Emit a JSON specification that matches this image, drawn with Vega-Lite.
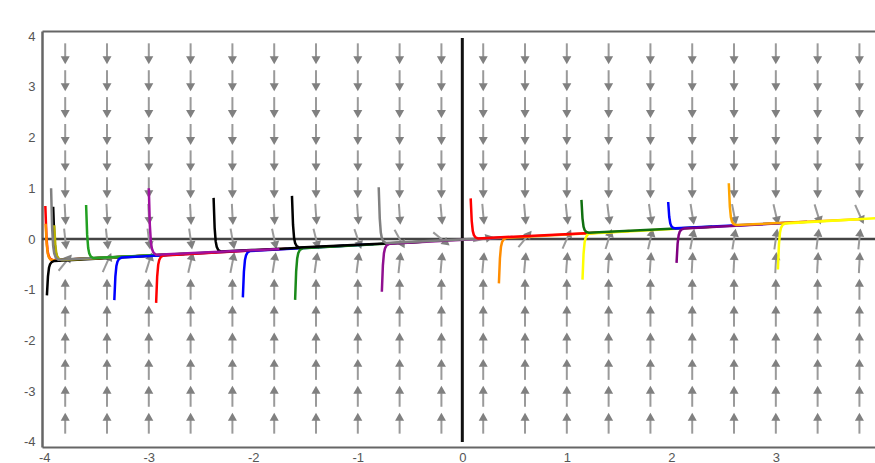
{
"$schema":"https://vega.github.io/schema/vega-lite/v6.json",
"width":833,"height":416,
"autosize":{"type":"none"},
"padding":{"left":42,"top":31,"right":0,"bottom":16},
"background":"white",
"config":{"view":{"stroke":null},"font":"Liberation Sans"},
"datasets":{
"zeroH":[{"y":0}],
"zeroV":[{"x":0,"y":-4,"y2":3.96}],
"arrows":[
{"x":-3.8,"y":3.65,"a":180},{"x":-3.8,"y":3.12,"a":180},{"x":-3.8,"y":2.59,"a":180},{"x":-3.8,"y":2.06,"a":180},{"x":-3.8,"y":1.54,"a":180},{"x":-3.8,"y":1.01,"a":180},{"x":-3.8,"y":0.485,"a":177},{"x":-3.8,"y":0,"a":174},{"x":-3.8,"y":-0.465,"a":39},{"x":-3.8,"y":-0.99,"a":0},{"x":-3.8,"y":-1.52,"a":0},{"x":-3.8,"y":-2.05,"a":0},{"x":-3.8,"y":-2.57,"a":0},{"x":-3.8,"y":-3.1,"a":0},{"x":-3.8,"y":-3.63,"a":0},
{"x":-3.4,"y":3.65,"a":180},{"x":-3.4,"y":3.12,"a":180},{"x":-3.4,"y":2.59,"a":180},{"x":-3.4,"y":2.06,"a":180},{"x":-3.4,"y":1.54,"a":180},{"x":-3.4,"y":1.01,"a":180},{"x":-3.4,"y":0.485,"a":177},{"x":-3.4,"y":0,"a":174},{"x":-3.4,"y":-0.465,"a":24},{"x":-3.4,"y":-0.99,"a":0},{"x":-3.4,"y":-1.52,"a":0},{"x":-3.4,"y":-2.05,"a":0},{"x":-3.4,"y":-2.57,"a":0},{"x":-3.4,"y":-3.1,"a":0},{"x":-3.4,"y":-3.63,"a":0},
{"x":-3.0,"y":3.65,"a":180},{"x":-3.0,"y":3.12,"a":180},{"x":-3.0,"y":2.59,"a":180},{"x":-3.0,"y":2.06,"a":180},{"x":-3.0,"y":1.54,"a":180},{"x":-3.0,"y":1.01,"a":180},{"x":-3.0,"y":0.485,"a":177},{"x":-3.0,"y":0,"a":173},{"x":-3.0,"y":-0.465,"a":17},{"x":-3.0,"y":-0.99,"a":0},{"x":-3.0,"y":-1.52,"a":0},{"x":-3.0,"y":-2.05,"a":0},{"x":-3.0,"y":-2.57,"a":0},{"x":-3.0,"y":-3.1,"a":0},{"x":-3.0,"y":-3.63,"a":0},
{"x":-2.6,"y":3.65,"a":180},{"x":-2.6,"y":3.12,"a":180},{"x":-2.6,"y":2.59,"a":180},{"x":-2.6,"y":2.06,"a":180},{"x":-2.6,"y":1.54,"a":180},{"x":-2.6,"y":1.01,"a":180},{"x":-2.6,"y":0.485,"a":177},{"x":-2.6,"y":0,"a":172},{"x":-2.6,"y":-0.465,"a":13},{"x":-2.6,"y":-0.99,"a":0},{"x":-2.6,"y":-1.52,"a":0},{"x":-2.6,"y":-2.05,"a":0},{"x":-2.6,"y":-2.57,"a":0},{"x":-2.6,"y":-3.1,"a":0},{"x":-2.6,"y":-3.63,"a":0},
{"x":-2.2,"y":3.65,"a":180},{"x":-2.2,"y":3.12,"a":180},{"x":-2.2,"y":2.59,"a":180},{"x":-2.2,"y":2.06,"a":180},{"x":-2.2,"y":1.54,"a":180},{"x":-2.2,"y":1.01,"a":180},{"x":-2.2,"y":0.485,"a":177},{"x":-2.2,"y":0,"a":170},{"x":-2.2,"y":-0.465,"a":11},{"x":-2.2,"y":-0.99,"a":0},{"x":-2.2,"y":-1.52,"a":0},{"x":-2.2,"y":-2.05,"a":0},{"x":-2.2,"y":-2.57,"a":0},{"x":-2.2,"y":-3.1,"a":0},{"x":-2.2,"y":-3.63,"a":0},
{"x":-1.8,"y":3.65,"a":180},{"x":-1.8,"y":3.12,"a":180},{"x":-1.8,"y":2.59,"a":180},{"x":-1.8,"y":2.06,"a":180},{"x":-1.8,"y":1.54,"a":180},{"x":-1.8,"y":1.01,"a":180},{"x":-1.8,"y":0.485,"a":177},{"x":-1.8,"y":0,"a":168},{"x":-1.8,"y":-0.465,"a":9},{"x":-1.8,"y":-0.99,"a":0},{"x":-1.8,"y":-1.52,"a":0},{"x":-1.8,"y":-2.05,"a":0},{"x":-1.8,"y":-2.57,"a":0},{"x":-1.8,"y":-3.1,"a":0},{"x":-1.8,"y":-3.63,"a":0},
{"x":-1.4,"y":3.65,"a":180},{"x":-1.4,"y":3.12,"a":180},{"x":-1.4,"y":2.59,"a":180},{"x":-1.4,"y":2.06,"a":180},{"x":-1.4,"y":1.54,"a":180},{"x":-1.4,"y":1.01,"a":180},{"x":-1.4,"y":0.485,"a":176},{"x":-1.4,"y":0,"a":166},{"x":-1.4,"y":-0.465,"a":8},{"x":-1.4,"y":-0.99,"a":0},{"x":-1.4,"y":-1.52,"a":0},{"x":-1.4,"y":-2.05,"a":0},{"x":-1.4,"y":-2.57,"a":0},{"x":-1.4,"y":-3.1,"a":0},{"x":-1.4,"y":-3.63,"a":0},
{"x":-1.0,"y":3.65,"a":180},{"x":-1.0,"y":3.12,"a":180},{"x":-1.0,"y":2.59,"a":180},{"x":-1.0,"y":2.06,"a":180},{"x":-1.0,"y":1.54,"a":180},{"x":-1.0,"y":1.01,"a":180},{"x":-1.0,"y":0.485,"a":176},{"x":-1.0,"y":0,"a":161},{"x":-1.0,"y":-0.465,"a":7},{"x":-1.0,"y":-0.99,"a":0},{"x":-1.0,"y":-1.52,"a":0},{"x":-1.0,"y":-2.05,"a":0},{"x":-1.0,"y":-2.57,"a":0},{"x":-1.0,"y":-3.1,"a":0},{"x":-1.0,"y":-3.63,"a":0},
{"x":-0.6,"y":3.65,"a":180},{"x":-0.6,"y":3.12,"a":180},{"x":-0.6,"y":2.59,"a":180},{"x":-0.6,"y":2.06,"a":180},{"x":-0.6,"y":1.54,"a":180},{"x":-0.6,"y":1.01,"a":180},{"x":-0.6,"y":0.485,"a":176},{"x":-0.6,"y":0,"a":151},{"x":-0.6,"y":-0.465,"a":6},{"x":-0.6,"y":-0.99,"a":0},{"x":-0.6,"y":-1.52,"a":0},{"x":-0.6,"y":-2.05,"a":0},{"x":-0.6,"y":-2.57,"a":0},{"x":-0.6,"y":-3.1,"a":0},{"x":-0.6,"y":-3.63,"a":0},
{"x":-0.2,"y":3.65,"a":180},{"x":-0.2,"y":3.12,"a":180},{"x":-0.2,"y":2.59,"a":180},{"x":-0.2,"y":2.06,"a":180},{"x":-0.2,"y":1.54,"a":180},{"x":-0.2,"y":1.01,"a":180},{"x":-0.2,"y":0.485,"a":175},{"x":-0.2,"y":0,"a":129},{"x":-0.2,"y":-0.465,"a":5},{"x":-0.2,"y":-0.99,"a":0},{"x":-0.2,"y":-1.52,"a":0},{"x":-0.2,"y":-2.05,"a":0},{"x":-0.2,"y":-2.57,"a":0},{"x":-0.2,"y":-3.1,"a":0},{"x":-0.2,"y":-3.63,"a":0},
{"x":0.2,"y":3.65,"a":180},{"x":0.2,"y":3.12,"a":180},{"x":0.2,"y":2.59,"a":180},{"x":0.2,"y":2.06,"a":180},{"x":0.2,"y":1.54,"a":180},{"x":0.2,"y":1.01,"a":180},{"x":0.2,"y":0.485,"a":175},{"x":0.2,"y":0,"a":77},{"x":0.2,"y":-0.465,"a":5},{"x":0.2,"y":-0.99,"a":0},{"x":0.2,"y":-1.52,"a":0},{"x":0.2,"y":-2.05,"a":0},{"x":0.2,"y":-2.57,"a":0},{"x":0.2,"y":-3.1,"a":0},{"x":0.2,"y":-3.63,"a":0},
{"x":0.6,"y":3.65,"a":180},{"x":0.6,"y":3.12,"a":180},{"x":0.6,"y":2.59,"a":180},{"x":0.6,"y":2.06,"a":180},{"x":0.6,"y":1.54,"a":180},{"x":0.6,"y":1.01,"a":180},{"x":0.6,"y":0.485,"a":175},{"x":0.6,"y":0,"a":39},{"x":0.6,"y":-0.465,"a":5},{"x":0.6,"y":-0.99,"a":0},{"x":0.6,"y":-1.52,"a":0},{"x":0.6,"y":-2.05,"a":0},{"x":0.6,"y":-2.57,"a":0},{"x":0.6,"y":-3.1,"a":0},{"x":0.6,"y":-3.63,"a":0},
{"x":1.0,"y":3.65,"a":180},{"x":1.0,"y":3.12,"a":180},{"x":1.0,"y":2.59,"a":180},{"x":1.0,"y":2.06,"a":180},{"x":1.0,"y":1.54,"a":180},{"x":1.0,"y":1.01,"a":180},{"x":1.0,"y":0.485,"a":174},{"x":1.0,"y":0,"a":24},{"x":1.0,"y":-0.465,"a":4},{"x":1.0,"y":-0.99,"a":0},{"x":1.0,"y":-1.52,"a":0},{"x":1.0,"y":-2.05,"a":0},{"x":1.0,"y":-2.57,"a":0},{"x":1.0,"y":-3.1,"a":0},{"x":1.0,"y":-3.63,"a":0},
{"x":1.4,"y":3.65,"a":180},{"x":1.4,"y":3.12,"a":180},{"x":1.4,"y":2.59,"a":180},{"x":1.4,"y":2.06,"a":180},{"x":1.4,"y":1.54,"a":180},{"x":1.4,"y":1.01,"a":180},{"x":1.4,"y":0.485,"a":173},{"x":1.4,"y":0,"a":17},{"x":1.4,"y":-0.465,"a":4},{"x":1.4,"y":-0.99,"a":0},{"x":1.4,"y":-1.52,"a":0},{"x":1.4,"y":-2.05,"a":0},{"x":1.4,"y":-2.57,"a":0},{"x":1.4,"y":-3.1,"a":0},{"x":1.4,"y":-3.63,"a":0},
{"x":1.8,"y":3.65,"a":180},{"x":1.8,"y":3.12,"a":180},{"x":1.8,"y":2.59,"a":180},{"x":1.8,"y":2.06,"a":180},{"x":1.8,"y":1.54,"a":180},{"x":1.8,"y":1.01,"a":180},{"x":1.8,"y":0.485,"a":172},{"x":1.8,"y":0,"a":13},{"x":1.8,"y":-0.465,"a":4},{"x":1.8,"y":-0.99,"a":0},{"x":1.8,"y":-1.52,"a":0},{"x":1.8,"y":-2.05,"a":0},{"x":1.8,"y":-2.57,"a":0},{"x":1.8,"y":-3.1,"a":0},{"x":1.8,"y":-3.63,"a":0},
{"x":2.2,"y":3.65,"a":180},{"x":2.2,"y":3.12,"a":180},{"x":2.2,"y":2.59,"a":180},{"x":2.2,"y":2.06,"a":180},{"x":2.2,"y":1.54,"a":180},{"x":2.2,"y":1.01,"a":180},{"x":2.2,"y":0.485,"a":171},{"x":2.2,"y":0,"a":11},{"x":2.2,"y":-0.465,"a":3},{"x":2.2,"y":-0.99,"a":0},{"x":2.2,"y":-1.52,"a":0},{"x":2.2,"y":-2.05,"a":0},{"x":2.2,"y":-2.57,"a":0},{"x":2.2,"y":-3.1,"a":0},{"x":2.2,"y":-3.63,"a":0},
{"x":2.6,"y":3.65,"a":180},{"x":2.6,"y":3.12,"a":180},{"x":2.6,"y":2.59,"a":180},{"x":2.6,"y":2.06,"a":180},{"x":2.6,"y":1.54,"a":180},{"x":2.6,"y":1.01,"a":180},{"x":2.6,"y":0.485,"a":169},{"x":2.6,"y":0,"a":9},{"x":2.6,"y":-0.465,"a":3},{"x":2.6,"y":-0.99,"a":0},{"x":2.6,"y":-1.52,"a":0},{"x":2.6,"y":-2.05,"a":0},{"x":2.6,"y":-2.57,"a":0},{"x":2.6,"y":-3.1,"a":0},{"x":2.6,"y":-3.63,"a":0},
{"x":3.0,"y":3.65,"a":180},{"x":3.0,"y":3.12,"a":180},{"x":3.0,"y":2.59,"a":180},{"x":3.0,"y":2.06,"a":180},{"x":3.0,"y":1.54,"a":180},{"x":3.0,"y":1.01,"a":180},{"x":3.0,"y":0.485,"a":167},{"x":3.0,"y":0,"a":8},{"x":3.0,"y":-0.465,"a":3},{"x":3.0,"y":-0.99,"a":0},{"x":3.0,"y":-1.52,"a":0},{"x":3.0,"y":-2.05,"a":0},{"x":3.0,"y":-2.57,"a":0},{"x":3.0,"y":-3.1,"a":0},{"x":3.0,"y":-3.63,"a":0},
{"x":3.4,"y":3.65,"a":180},{"x":3.4,"y":3.12,"a":180},{"x":3.4,"y":2.59,"a":180},{"x":3.4,"y":2.06,"a":180},{"x":3.4,"y":1.54,"a":180},{"x":3.4,"y":1.01,"a":180},{"x":3.4,"y":0.485,"a":163},{"x":3.4,"y":0,"a":7},{"x":3.4,"y":-0.465,"a":3},{"x":3.4,"y":-0.99,"a":0},{"x":3.4,"y":-1.52,"a":0},{"x":3.4,"y":-2.05,"a":0},{"x":3.4,"y":-2.57,"a":0},{"x":3.4,"y":-3.1,"a":0},{"x":3.4,"y":-3.63,"a":0},
{"x":3.8,"y":3.65,"a":180},{"x":3.8,"y":3.12,"a":180},{"x":3.8,"y":2.59,"a":180},{"x":3.8,"y":2.06,"a":180},{"x":3.8,"y":1.54,"a":180},{"x":3.8,"y":1.01,"a":180},{"x":3.8,"y":0.485,"a":156},{"x":3.8,"y":0,"a":6},{"x":3.8,"y":-0.465,"a":3},{"x":3.8,"y":-0.99,"a":0},{"x":3.8,"y":-1.52,"a":0},{"x":3.8,"y":-2.05,"a":0},{"x":3.8,"y":-2.57,"a":0},{"x":3.8,"y":-3.1,"a":0},{"x":3.8,"y":-3.63,"a":0}
],
"curves":[
{"id":"c01","x":-3.99,"y":0.65},{"id":"c01","x":-3.98,"y":0.054},{"id":"c01","x":-3.97,"y":-0.216},{"id":"c01","x":-3.96,"y":-0.323},{"id":"c01","x":-3.945,"y":-0.387},{"id":"c01","x":-3.92,"y":-0.417},{"id":"c01","x":-2.74,"y":-0.302},
{"id":"c02","x":-3.987,"y":0.3},{"id":"c02","x":-3.977,"y":-0.103},{"id":"c02","x":-3.967,"y":-0.286},{"id":"c02","x":-3.957,"y":-0.358},{"id":"c02","x":-3.942,"y":-0.401},{"id":"c02","x":-3.917,"y":-0.42},{"id":"c02","x":-2.74,"y":-0.302},
{"id":"c03","x":-3.975,"y":-1.11},{"id":"c03","x":-3.965,"y":-0.737},{"id":"c03","x":-3.955,"y":-0.567},{"id":"c03","x":-3.945,"y":-0.498},{"id":"c03","x":-3.93,"y":-0.456},{"id":"c03","x":-3.905,"y":-0.433},{"id":"c03","x":-2.72,"y":-0.3},
{"id":"c04","x":-3.915,"y":0.635},{"id":"c04","x":-3.905,"y":0.052},{"id":"c04","x":-3.895,"y":-0.2125},{"id":"c04","x":-3.885,"y":-0.3176},{"id":"c04","x":-3.87,"y":-0.3797},{"id":"c04","x":-3.845,"y":-0.409},{"id":"c04","x":-2.66,"y":-0.294},
{"id":"c05","x":-3.905,"y":0.27},{"id":"c05","x":-3.895,"y":-0.1117},{"id":"c05","x":-3.885,"y":-0.2846},{"id":"c05","x":-3.875,"y":-0.3532},{"id":"c05","x":-3.86,"y":-0.3934},{"id":"c05","x":-3.835,"y":-0.4115},{"id":"c05","x":-2.65,"y":-0.2929},
{"id":"c06","x":-3.935,"y":1.0},{"id":"c06","x":-3.925,"y":0.215},{"id":"c06","x":-3.915,"y":-0.1412},{"id":"c06","x":-3.905,"y":-0.283},{"id":"c06","x":-3.89,"y":-0.3671},{"id":"c06","x":-3.865,"y":-0.4074},{"id":"c06","x":-2.68,"y":-0.2961},
{"id":"c07","x":-3.6,"y":0.67},{"id":"c07","x":-3.59,"y":0.0861},{"id":"c07","x":-3.58,"y":-0.1788},{"id":"c07","x":-3.57,"y":-0.284},{"id":"c07","x":-3.555,"y":-0.3463},{"id":"c07","x":-3.53,"y":-0.3756},{"id":"c07","x":-2.35,"y":-0.2611},
{"id":"c08","x":-3.33,"y":-1.205},{"id":"c08","x":-3.32,"y":-0.7419},{"id":"c08","x":-3.31,"y":-0.5309},{"id":"c08","x":-3.3,"y":-0.4458},{"id":"c08","x":-3.285,"y":-0.3938},{"id":"c08","x":-3.26,"y":-0.366},{"id":"c08","x":-2.08,"y":-0.2325},
{"id":"c09","x":-2.93,"y":-1.26},{"id":"c09","x":-2.92,"y":-0.7433},{"id":"c09","x":-2.91,"y":-0.508},{"id":"c09","x":-2.9,"y":-0.4131},{"id":"c09","x":-2.885,"y":-0.3553},{"id":"c09","x":-2.86,"y":-0.3246},{"id":"c09","x":-1.68,"y":-0.1901},
{"id":"c10","x":-2.1,"y":-1.15},{"id":"c10","x":-2.09,"y":-0.6454},{"id":"c10","x":-2.08,"y":-0.4156},{"id":"c10","x":-2.07,"y":-0.3229},{"id":"c10","x":-2.055,"y":-0.2664},{"id":"c10","x":-2.03,"y":-0.2364},{"id":"c10","x":-0.85,"y":-0.1021},
{"id":"c11","x":-2.38,"y":0.81},{"id":"c11","x":-2.37,"y":0.2202},{"id":"c11","x":-2.36,"y":-0.0473},{"id":"c11","x":-2.35,"y":-0.1537},{"id":"c11","x":-2.335,"y":-0.2165},{"id":"c11","x":-2.31,"y":-0.2462},{"id":"c11","x":-1.13,"y":-0.1318},
{"id":"c12","x":-3.0,"y":1.0},{"id":"c12","x":-2.99,"y":0.2696},{"id":"c12","x":-2.98,"y":-0.0619},{"id":"c12","x":-2.97,"y":-0.1938},{"id":"c12","x":-2.955,"y":-0.272},{"id":"c12","x":-2.93,"y":-0.3093},{"id":"c12","x":-1.75,"y":-0.1975},
{"id":"c13","x":-1.6,"y":-1.2},{"id":"c13","x":-1.59,"y":-0.6388},{"id":"c13","x":-1.58,"y":-0.3832},{"id":"c13","x":-1.57,"y":-0.2802},{"id":"c13","x":-1.555,"y":-0.2175},{"id":"c13","x":-1.53,"y":-0.1844},{"id":"c13","x":-0.35,"y":-0.0491},
{"id":"c14","x":-1.63,"y":0.85},{"id":"c14","x":-1.62,"y":0.282},{"id":"c14","x":-1.61,"y":0.0243},{"id":"c14","x":-1.6,"y":-0.0781},{"id":"c14","x":-1.585,"y":-0.1386},{"id":"c14","x":-1.56,"y":-0.1671},{"id":"c14","x":-0.38,"y":-0.0523},
{"id":"c15","x":-0.77,"y":-1.04},{"id":"c15","x":-0.76,"y":-0.5185},{"id":"c15","x":-0.75,"y":-0.2808},{"id":"c15","x":-0.74,"y":-0.185},{"id":"c15","x":-0.725,"y":-0.1268},{"id":"c15","x":-0.7,"y":-0.0957},{"id":"c15","x":0.48,"y":0.0389},
{"id":"c16","x":-0.8,"y":1.02},{"id":"c16","x":-0.79,"y":0.4069},{"id":"c16","x":-0.78,"y":0.1287},{"id":"c16","x":-0.77,"y":0.0181},{"id":"c16","x":-0.755,"y":-0.0473},{"id":"c16","x":-0.73,"y":-0.0782},{"id":"c16","x":0.45,"y":0.0357},
{"id":"c17","x":0.35,"y":-0.875},{"id":"c17","x":0.36,"y":-0.3788},{"id":"c17","x":0.37,"y":-0.1528},{"id":"c17","x":0.38,"y":-0.0617},{"id":"c17","x":0.395,"y":-0.0061},{"id":"c17","x":0.42,"y":0.0235},{"id":"c17","x":1.6,"y":0.1576},
{"id":"c18","x":0.08,"y":0.8},{"id":"c18","x":0.09,"y":0.3591},{"id":"c18","x":0.1,"y":0.1593},{"id":"c18","x":0.11,"y":0.0801},{"id":"c18","x":0.125,"y":0.0334},{"id":"c18","x":0.15,"y":0.0119},{"id":"c18","x":1.33,"y":0.129},
{"id":"c19","x":1.15,"y":-0.8},{"id":"c19","x":1.16,"y":-0.2985},{"id":"c19","x":1.17,"y":-0.07},{"id":"c19","x":1.18,"y":0.0221},{"id":"c19","x":1.195,"y":0.0783},{"id":"c19","x":1.22,"y":0.1082},{"id":"c19","x":2.4,"y":0.2424},
{"id":"c20","x":1.14,"y":0.77},{"id":"c20","x":1.15,"y":0.4074},{"id":"c20","x":1.16,"y":0.2432},{"id":"c20","x":1.17,"y":0.1781},{"id":"c20","x":1.185,"y":0.14},{"id":"c20","x":1.21,"y":0.1229},{"id":"c20","x":2.39,"y":0.2413},
{"id":"c21","x":1.97,"y":0.73},{"id":"c21","x":1.98,"y":0.4378},{"id":"c21","x":1.99,"y":0.3055},{"id":"c21","x":2.0,"y":0.2533},{"id":"c21","x":2.015,"y":0.2229},{"id":"c21","x":2.04,"y":0.2095},{"id":"c21","x":3.22,"y":0.3293},
{"id":"c22","x":2.05,"y":-0.47},{"id":"c22","x":2.06,"y":-0.0975},{"id":"c22","x":2.07,"y":0.0723},{"id":"c22","x":2.08,"y":0.141},{"id":"c22","x":2.095,"y":0.1831},{"id":"c22","x":2.12,"y":0.2059},{"id":"c22","x":3.3,"y":0.3378},
{"id":"c23","x":2.55,"y":1.1},{"id":"c23","x":2.56,"y":0.6382},{"id":"c23","x":2.57,"y":0.4287},{"id":"c23","x":2.58,"y":0.3457},{"id":"c23","x":2.595,"y":0.2968},{"id":"c23","x":2.62,"y":0.2741},{"id":"c23","x":3.8,"y":0.3908},
{"id":"c24","x":3.02,"y":-0.6},{"id":"c24","x":3.03,"y":-0.0994},{"id":"c24","x":3.04,"y":0.1286},{"id":"c24","x":3.05,"y":0.2205},{"id":"c24","x":3.065,"y":0.2766},{"id":"c24","x":3.09,"y":0.3064},{"id":"c24","x":3.95,"y":0.4067}
]
},
"layer":[
{"data":{"name":"zeroH"},
 "mark":{"type":"rule","color":"#444444","strokeWidth":2.5},
 "encoding":{"y":{"field":"y","type":"quantitative","scale":{"domain":[-4.1,4.1],"nice":false,"zero":false},"axis":null}}},
{"data":{"name":"zeroV"},
 "mark":{"type":"rule","color":"#111111","strokeWidth":3},
 "encoding":{
  "x":{"field":"x","type":"quantitative","scale":{"domain":[-4.022,3.949],"nice":false,"zero":false},
   "axis":{"orient":"top","labels":false,"ticks":false,"grid":false,"title":null,"domainColor":"#666666","domainWidth":2}},
  "y":{"field":"y","type":"quantitative","axis":null},
  "y2":{"field":"y2"}}},
{"data":{"name":"arrows"},
 "mark":{"type":"point","shape":"M0,1L0,-0.3","filled":false,"stroke":"#9a9a9a","strokeWidth":2,"opacity":1,"size":441},
 "encoding":{
  "x":{"field":"x","type":"quantitative",
   "axis":{"orient":"bottom","values":[-4,-3,-2,-1,0,1,2,3],"ticks":false,"grid":false,"title":null,"domainColor":"#666666","domainWidth":2,"labelColor":"#555555","labelFontSize":13,"labelPadding":4,"labelFlush":false,"labelOverlap":false,"labelExpr":"datum.value < 0 ? '-' + abs(datum.value) : '' + datum.value"}},
  "y":{"field":"y","type":"quantitative",
   "axis":{"orient":"left","values":[-4,-3,-2,-1,0,1,2,3,4],"ticks":false,"grid":false,"title":null,"domainColor":"#666666","domainWidth":2.5,"labelColor":"#555555","labelFontSize":13,"labelPadding":7,"labelFlush":false,"labelOverlap":false,"labelExpr":"datum.value < 0 ? '-' + abs(datum.value) : '' + datum.value"}},
  "angle":{"field":"a","type":"quantitative","scale":null}}},
{"data":{"name":"arrows"},
 "mark":{"type":"point","shape":"M0,-1L0.43,-0.24L-0.43,-0.24Z","filled":true,"color":"#808080","strokeWidth":0,"opacity":1,"size":441},
 "encoding":{
  "x":{"field":"x","type":"quantitative","axis":null},
  "y":{"field":"y","type":"quantitative","axis":null},
  "angle":{"field":"a","type":"quantitative","scale":null}}},
{"data":{"name":"curves"},
 "mark":{"type":"line","strokeWidth":2.5,"clip":true},
 "encoding":{
  "x":{"field":"x","type":"quantitative","axis":null},
  "y":{"field":"y","type":"quantitative","axis":null},
  "color":{"field":"id","type":"nominal","legend":null,
   "scale":{"domain":["c01","c02","c03","c04","c05","c06","c07","c08","c09","c10","c11","c12","c13","c14","c15","c16","c17","c18","c19","c20","c21","c22","c23","c24"],
   "range":["#ff0000","#ff8c00","#000000","#000000","#b8b000","#808080","#22a022","#0000ff","#ff0000","#0000ff","#000000","#a010a0","#1a8a1a","#000000","#901090","#808080","#ff8c00","#ff0000","#ffff00","#107010","#0000ff","#800080","#ffa500","#ffff00"]}}}}
],
"resolve":{"axis":{"x":"independent","y":"independent"}}
}
